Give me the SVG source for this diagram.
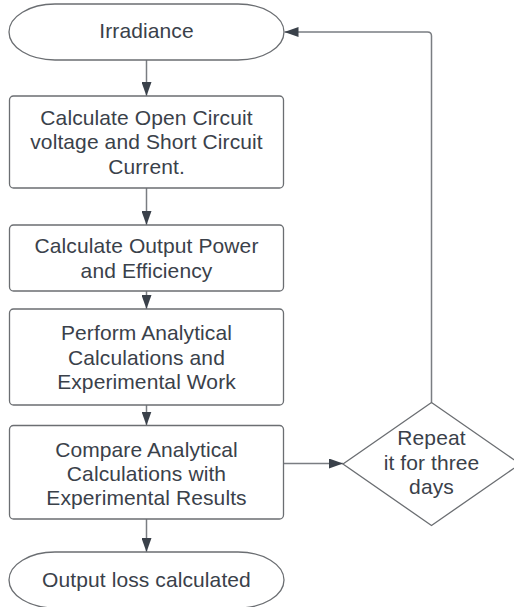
<svg xmlns="http://www.w3.org/2000/svg" width="514" height="607" viewBox="0 0 514 607">
<defs>
<marker id="ah" viewBox="0 0 14 10" refX="14" refY="5" markerWidth="14" markerHeight="10" markerUnits="userSpaceOnUse" orient="auto">
<path d="M0,0 L14,5 L0,10 Z" fill="#3a414a"/>
</marker>
<style>
.shape{fill:#ffffff;stroke:#6b6e72;stroke-width:1.3}
.t{font-family:"Liberation Sans",Arial,sans-serif;font-size:21px;letter-spacing:0.1px;fill:#3a414a;text-anchor:middle;dominant-baseline:central}
.c{fill:none;stroke:#7a7d82;stroke-width:1.5;marker-end:url(#ah)}
</style>
</defs>
<rect width="514" height="607" fill="#ffffff"/>
<g id="connectors">
<path class="c" d="M146.5,60 V96"/>
<path class="c" d="M146.5,188 V225"/>
<path class="c" d="M146.5,291 V309"/>
<path class="c" d="M146.5,405 V425.5"/>
<path class="c" d="M146.5,519 V552"/>
<path class="c" d="M284,463.5 H343"/>
<path class="c" d="M431.5,402.5 V36 Q431.5,32 427.5,32 H284.5"/>
</g>
<g id="irradiance">
<path class="shape" d="M55,4 H238 A46,28 0 0 1 238,60 H55 A46,28 0 0 1 55,4 Z"/>
<text class="t" x="146.5" y="30">Irradiance</text>
</g>
<g id="calc-voc-isc">
<rect class="shape" x="9.5" y="96" width="274" height="92" rx="4"/>
<text class="t" x="146.5" y="117">Calculate Open Circuit</text>
<text class="t" x="146.5" y="141.5">voltage and Short Circuit</text>
<text class="t" x="146.5" y="166">Current.</text>
</g>
<g id="calc-power">
<rect class="shape" x="9.5" y="225" width="274" height="66" rx="4"/>
<text class="t" x="146.5" y="245.5">Calculate Output Power</text>
<text class="t" x="146.5" y="270">and Efficiency</text>
</g>
<g id="perform">
<rect class="shape" x="9.5" y="309" width="274" height="96" rx="4"/>
<text class="t" x="146.5" y="332.5">Perform Analytical</text>
<text class="t" x="146.5" y="357">Calculations and</text>
<text class="t" x="146.5" y="381.5">Experimental Work</text>
</g>
<g id="compare">
<rect class="shape" x="9.5" y="425.5" width="274" height="93.5" rx="4"/>
<text class="t" x="146.5" y="449">Compare Analytical</text>
<text class="t" x="146.5" y="473">Calculations with</text>
<text class="t" x="146.5" y="497.5">Experimental Results</text>
</g>
<g id="output-loss">
<path class="shape" d="M55,552 H238 A46,28 0 0 1 238,608 H55 A46,28 0 0 1 55,552 Z"/>
<text class="t" x="146.5" y="579">Output loss calculated</text>
</g>
<g id="repeat">
<path class="shape" d="M431.5,402.5 L520,464 L431.5,525.5 L343,464 Z"/>
<text class="t" x="431.5" y="437.5">Repeat</text>
<text class="t" x="431.5" y="462">it for three</text>
<text class="t" x="431.5" y="486">days</text>
</g>
</svg>
